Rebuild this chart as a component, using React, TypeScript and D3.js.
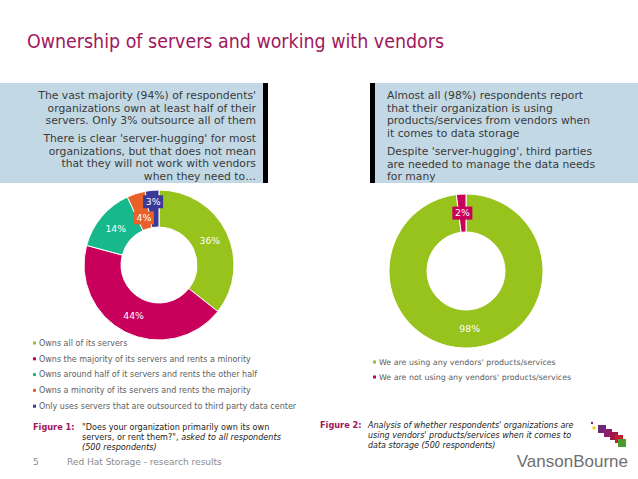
import React from 'react';
import * as d3 from 'd3';

// figure 1 data
const ownershipLabels = [
  'Owns all of its servers',
  'Owns the majority of its servers and rents a minority',
  'Owns around half of it servers and rents the other half',
  'Owns a minority of its servers and rents the majority',
  'Only uses servers that are outsourced to third party data center',
];
const ownershipValues = [36, 44, 14, 4, 3];
const ownershipColors = ['#98c21c', '#c8005c', '#16b88c', '#e8602a', '#3a3a98'];

// figure 2 data
const vendorLabels = [
  "We are using any vendors' products/services",
  "We are not using any vendors' products/services",
];
const vendorValues = [98, 2];
const vendorColors = ['#98c21c', '#c8005c'];

const leftBoxLines = [
  ["The vast majority (94%) of respondents'", 'organizations own at least half of their', 'servers. Only 3% outsource all of them'],
  ["There is clear 'server-hugging' for most", 'organizations, but that does not mean', 'that they will not work with vendors', 'when they need to…'],
];
const rightBoxLines = [
  ['Almost all (98%) respondents report', 'that their organization is using', 'products/services from vendors when', 'it comes to data storage'],
  ["Despite 'server-hugging', third parties", 'are needed to manage the data needs', 'for many'],
];

const FONT = 'DejaVu Sans, Verdana, sans-serif';

type DonutProps = {
  values: number[];
  colors: string[];
  cx: number;
  cy: number;
  outer: number;
  inner: number;
};

const Donut = ({ values, colors, cx, cy, outer, inner }: DonutProps) => {
  const pie = d3.pie<number>().sort(null).value((d) => d);
  const arcs = pie(values);
  const arc = d3.arc<d3.PieArcDatum<number>>().innerRadius(inner).outerRadius(outer);
  const total = d3.sum(values);
  const midR = (inner + outer) / 2;
  const tiny = arcs.filter((a) => a.data / total < 0.05);

  return (
    <g transform={`translate(${cx},${cy})`}>
      {arcs.map((a, i) => (
        <path key={i} d={arc(a) || ''} fill={colors[i]} stroke="#fff" strokeWidth={1} />
      ))}
      {arcs.map((a, i) => {
        const mid = (a.startAngle + a.endAngle) / 2;
        const k = tiny.indexOf(a);
        const r = k >= 0 ? midR + (k - (tiny.length - 1) / 2) * 14 : midR;
        const x = Math.sin(mid) * r;
        const y = -Math.cos(mid) * r;
        const label = `${a.data}%`;
        return (
          <g key={'l' + i}>
            {k >= 0 && (
              <rect x={x - 10} y={y - 6.5} width={20} height={13} fill={colors[i]} />
            )}
            <text
              x={x}
              y={y}
              dy="0.35em"
              textAnchor="middle"
              fontFamily={FONT}
              fontSize={9.3}
              fill="#fff"
            >
              {label}
            </text>
          </g>
        );
      })}
    </g>
  );
};

const Legend = ({ labels, colors, x, y, step, size }: { labels: string[]; colors: string[]; x: number; y: number; step: number; size: number }) => (
  <g>
    {labels.map((l, i) => (
      <g key={i} transform={`translate(${x},${y + i * step})`}>
        <rect x={0} y={-1.5} width={3} height={3} fill={colors[i]} />
        <text x={6} y={0} dy="0.35em" fontFamily={FONT} fontSize={size} fill="#606060">
          {l}
        </text>
      </g>
    ))}
  </g>
);

const App = () => {
  const width = 638;
  const height = 479;
  const logoSquares = [
    { x: 598, y: 425, c: '#6a2a78' },
    { x: 604, y: 429, c: '#8e1f6e' },
    { x: 610, y: 432, c: '#a01848' },
    { x: 615, y: 435, c: '#c81e32' },
    { x: 618, y: 439, c: '#4d9a2e' },
  ];

  return (
    <div style={{ position: 'absolute', left: 0, top: 0 }}>
      <svg width={width} height={height} style={{ display: 'block', background: '#fff' }}>
        <text x={27} y={48} fontFamily={FONT} fontSize={19.5} fill="#a0175c" textLength={417} lengthAdjust="spacingAndGlyphs">
          Ownership of servers and working with vendors
        </text>

        {/* text boxes */}
        <rect x={0} y={83} width={264} height={100} fill="#c2d9e5" />
        <rect x={263} y={83} width={5} height={100} fill="#000" />
        <rect x={375} y={83} width={263} height={100} fill="#c2d9e5" />
        <rect x={370} y={83} width={5} height={100} fill="#000" />

        {leftBoxLines.map((para, p) =>
          para.map((line, i) => (
            <text
              key={`lb${p}-${i}`}
              x={256}
              y={99 + i * 12.5 + p * 43}
              textAnchor="end"
              fontFamily={FONT}
              fontSize={10.8}
              fill="#3a3a3a"
            >
              {line}
            </text>
          ))
        )}
        {rightBoxLines.map((para, p) =>
          para.map((line, i) => (
            <text
              key={`rb${p}-${i}`}
              x={387}
              y={99 + i * 12.5 + p * 56}
              fontFamily={FONT}
              fontSize={10.8}
              fill="#3a3a3a"
            >
              {line}
            </text>
          ))
        )}

        <Donut values={ownershipValues} colors={ownershipColors} cx={159} cy={265} outer={75} inner={38} />
        <Donut values={vendorValues} colors={vendorColors} cx={466} cy={271} outer={77} inner={39} />

        <Legend labels={ownershipLabels} colors={ownershipColors} x={33} y={343} step={15.8} size={8} />
        <Legend labels={vendorLabels} colors={vendorColors} x={373} y={362} step={15} size={7.9} />

        {/* captions */}
        <text x={33} y={430} fontFamily={FONT} fontSize={8.2} fontWeight="bold" fill="#a0175c">Figure 1:</text>
        <text x={82} y={430} fontFamily={FONT} fontSize={8.1} fill="#222">
          "Does your organization primarily own its own
        </text>
        <text x={82} y={440} fontFamily={FONT} fontSize={8.1} fill="#222">
          servers, or rent them?", <tspan fontStyle="italic">asked to all respondents</tspan>
        </text>
        <text x={82} y={450} fontFamily={FONT} fontSize={8.1} fontStyle="italic" fill="#222">
          (500 respondents)
        </text>

        <text x={320} y={428} fontFamily={FONT} fontSize={8.2} fontWeight="bold" fill="#a0175c">Figure 2:</text>
        {[
          "Analysis of whether respondents' organizations are",
          "using vendors' products/services when it comes to",
          'data storage (500 respondents)',
        ].map((l, i) => (
          <text key={i} x={368} y={428 + i * 10} fontFamily={FONT} fontSize={8} fontStyle="italic" fill="#222">
            {l}
          </text>
        ))}

        {/* footer */}
        <text x={33} y={465} fontFamily={FONT} fontSize={9} fill="#8a8a8a">5</text>
        <text x={67} y={465} fontFamily={FONT} fontSize={9} fill="#8a8a8a">Red Hat Storage - research results</text>

        {/* logo */}
        <circle cx={592} cy={423} r={1.2} fill="#6a2a78" />
        <circle cx={594} cy={428} r={1.8} fill="#f2d31c" />
        {logoSquares.map((s, i) => (
          <rect key={i} x={s.x} y={s.y} width={8} height={8} fill={s.c} />
        ))}
        <text x={628} y={467} textAnchor="end" fontFamily="Liberation Sans, Arial, sans-serif" fontSize={17} fill="#6f6f6f">
          VansonBourne
        </text>
      </svg>
    </div>
  );
};

export default App;
